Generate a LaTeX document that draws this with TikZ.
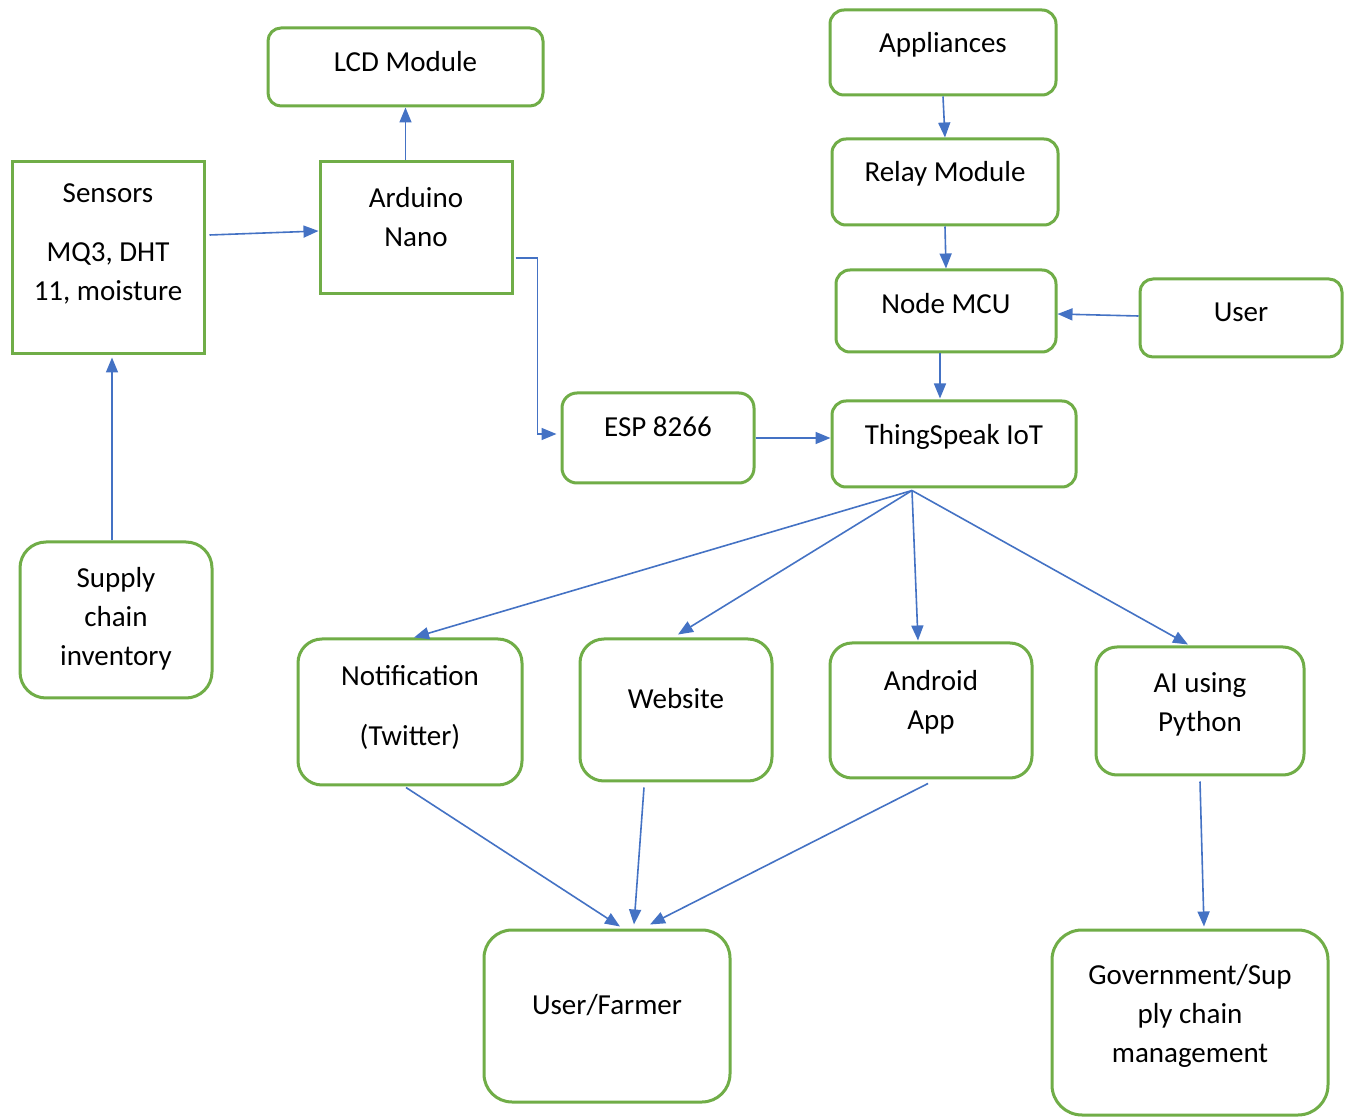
\documentclass[tikz,border=0pt]{standalone}
\usepackage{fontspec}
\setmainfont{Carlito}
\usetikzlibrary{arrows.meta,calc}
\definecolor{boxgreen}{RGB}{112,173,71}
\definecolor{pfeilblau}{RGB}{68,114,196}

\tikzset{
  block/.style={draw=boxgreen, line width=1.5pt, align=center, inner sep=0pt,
    font=\fontsize{14.5}{19.5}\selectfont, text height=0pt, text depth=0pt},
  rblock/.style={block, rounded corners=#1},
  flow/.style={pfeilblau, line width=0.8pt, -{Triangle[length=7.5pt,width=6pt]}},
}

\begin{document}
\begin{tikzpicture}[x=0.5pt, y=-0.5pt]

    \useasboundingbox[fill=white] (0,0) rectangle (1351,1117);

    \node[rblock=6.5pt, minimum width=137.5pt, minimum height=39pt, text height=4.5pt] (lcd) at (405.5,67) {LCD Module};
    \node[block, minimum width=96pt, minimum height=96pt, text height=42.5pt] (sensors) at (108,258) {Sensors\\[10pt]MQ3, DHT\\11, moisture};
    \node[block, minimum width=96pt, minimum height=66pt, text height=18.5pt] (arduino) at (416,228) {Arduino\\Nano};
    \node[rblock=13pt, minimum width=96pt, minimum height=78pt, text height=45.5pt] (supply) at (116,620) {Supply\\chain\\inventory};

    \node[rblock=7pt, minimum width=113pt, minimum height=42.5pt] (appliances) at (943,52.5) {Appliances};
    \node[rblock=7pt, minimum width=113pt, minimum height=43pt, text depth=0.5pt] (relay) at (945,182) {Relay Module};
    \node[rblock=7pt, minimum width=110pt, minimum height=41pt, text height=2.5pt] (nodemcu) at (946,311) {Node MCU};
    \node[rblock=6.5pt, minimum width=101pt, minimum height=39pt, text height=3.5pt] (user) at (1241,318) {User};
    \node[rblock=7.5pt, minimum width=96pt, minimum height=45pt, text depth=1.5pt] (esp) at (658,438) {ESP 8266};
    \node[rblock=7pt, minimum width=122pt, minimum height=43pt, text height=0.5pt] (thing) at (954,444) {ThingSpeak IoT};

    \node[rblock=12pt, minimum width=112pt, minimum height=73pt, text height=33.5pt] (notif) at (410,712) {Notification\\[10.5pt](Twitter)};
    \node[rblock=12pt, minimum width=96pt, minimum height=71pt, text depth=1.5pt] (website) at (676,710) {Website};
    \node[rblock=11pt, minimum width=101pt, minimum height=67.5pt, text height=19pt] (android) at (931,710.5) {Android\\App};
    \node[rblock=10.5pt, minimum width=104pt, minimum height=64pt, text height=20.5pt] (ai) at (1200,711) {AI using\\Python};

    \node[rblock=14pt, minimum width=123pt, minimum height=86pt, text depth=1.5pt] (farmer) at (607,1016) {User/Farmer};
    \node[rblock=15pt, minimum width=138pt, minimum height=92.5pt, text height=40pt] (gov) at (1190,1022.5) {Government/Sup\\ply chain\\management};

    % sensing side
    \draw[flow] (arduino.north -| lcd.south) -- (lcd.south);
    \draw[flow] ($(sensors.east)+(4,-23)$) -- ($(arduino.west)+(0,3)$);
    \draw[flow] ($(supply.north)+(-4,0)$) -- ($(sensors.south)+(4,2)$);
    \draw[flow] ($(arduino.east)+(2,30)$) -- ++(22,0) |- ($(esp.west)+(-4,-4)$);

    % control side
    \draw[flow] (appliances.south) -- (relay.north);
    \draw[flow] (relay.south) -- (nodemcu.north);
    \draw[flow] ($(user.west)+(0,-2)$) -- ($(nodemcu.east)+(0,3)$);
    \draw[flow] ($(nodemcu.south)+(-6,0)$) -- ($(thing.north)+(-14,-1)$);
    \draw[flow] (esp.east) -- ($(thing.west)+(0,-6)$);

    % outputs
    \coordinate (hub) at ($(thing.south)+(-42,2)$);
    \draw[flow] (hub) -- ($(notif.north)+(4,0)$);
    \draw[flow] (hub) -- ($(website.north)+(2,-3)$);
    \draw[flow] (hub) -- ($(android.north)+(-13,-1)$);
    \draw[flow] (hub) -- ($(ai.north)+(-12,-1)$);

    \draw[flow] ($(notif.south)+(-4,1)$) -- ($(farmer.north)+(13,-2)$);
    \draw[flow] ($(website.south)+(-32,5)$) -- ($(farmer.north)+(27,-4)$);
    \draw[flow] ($(android.south)+(-3,4)$) -- ($(farmer.north)+(43,-4)$);
    \draw[flow] ($(ai.south)+(0,5)$) -- ($(gov.north)+(14,-2)$);

\end{tikzpicture}
\end{document}
